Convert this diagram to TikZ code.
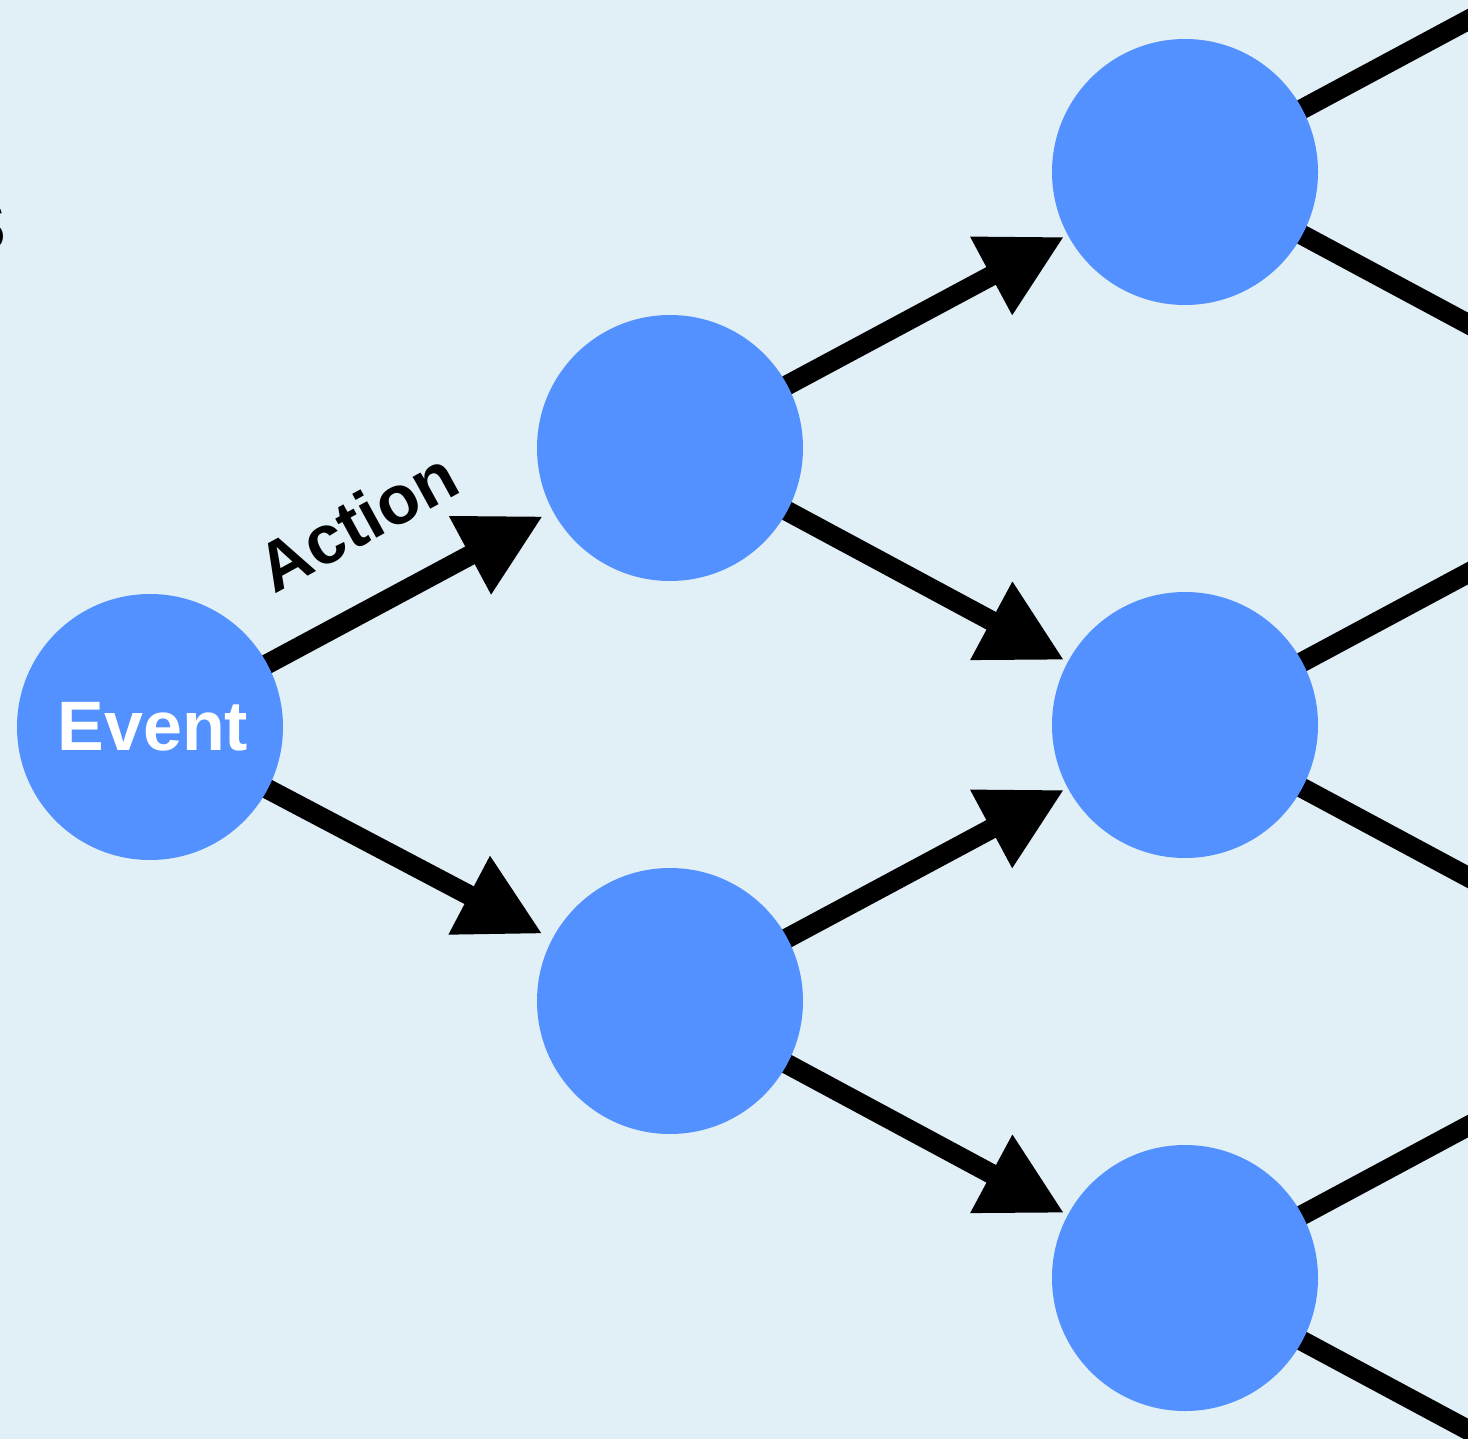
\documentclass[tikz,border=0pt]{standalone}
\usepackage{fontspec}
\setmainfont{Liberation Sans}
\usetikzlibrary{arrows.meta}
\definecolor{paper}{HTML}{E1EFF7}
\definecolor{nodeblue}{HTML}{5291FF}
\pgfdeclarelayer{back}
\pgfdeclarelayer{wires}
\pgfsetlayers{back,wires,main}

\begin{document}
\begin{tikzpicture}[x=1pt,y=-1pt,
  state/.style={circle, fill=nodeblue, minimum size=266pt, inner sep=0pt, outer sep=11pt},
  laststate/.style={state, outer sep=4pt},
  link/.style={line width=20pt, -{Triangle[length=83pt,width=83pt]}},
  wire/.style={line width=20pt},
  bigtext/.style={font=\fontsize{70}{84}\selectfont\bfseries, inner sep=0pt}]

\useasboundingbox (0,0) rectangle (1468,1439);
\clip (0,0) rectangle (1468,1439);
\begin{pgfonlayer}{back}
  \fill[paper] (0,0) rectangle (1468,1439);
\end{pgfonlayer}

% states of the tree
\node[state, text=white, bigtext] (ev) at (150,727) {\hspace*{6pt}Event};
\node[state] (a1) at (670,448) {};
\node[state] (a2) at (670,1001) {};
\node[laststate] (b1) at (1185,172) {};
\node[laststate] (b2) at (1185,725) {};
\node[laststate] (b3) at (1185,1278) {};

% branches leaving the right edge
\coordinate (b1u) at (1714,-112);
\coordinate (b1d) at (1714,456);
\coordinate (b2u) at (1714,441);
\coordinate (b2d) at (1714,1009);
\coordinate (b3u) at (1714,994);
\coordinate (b3d) at (1714,1562);

% truncated heading at the left edge
\node[bigtext, anchor=east] (cut) at (6,226) {S};

% action label
\node[bigtext, font=\fontsize{69}{84}\selectfont\bfseries, rotate=28.7] (act) at (357,521) {Action};

\begin{pgfonlayer}{wires}
  \draw[link] (ev.center) -- (a1);
  \draw[link] (ev.center) -- (a2);
  \draw[link] (a1.center) -- (b1);
  \draw[link] (a1.center) -- (b2);
  \draw[link] (a2.center) -- (b2);
  \draw[link] (a2.center) -- (b3);
  \draw[wire] (b1.center) -- (b1u);
  \draw[wire] (b1.center) -- (b1d);
  \draw[wire] (b2.center) -- (b2u);
  \draw[wire] (b2.center) -- (b2d);
  \draw[wire] (b3.center) -- (b3u);
  \draw[wire] (b3.center) -- (b3d);
\end{pgfonlayer}
\end{tikzpicture}
\end{document}
